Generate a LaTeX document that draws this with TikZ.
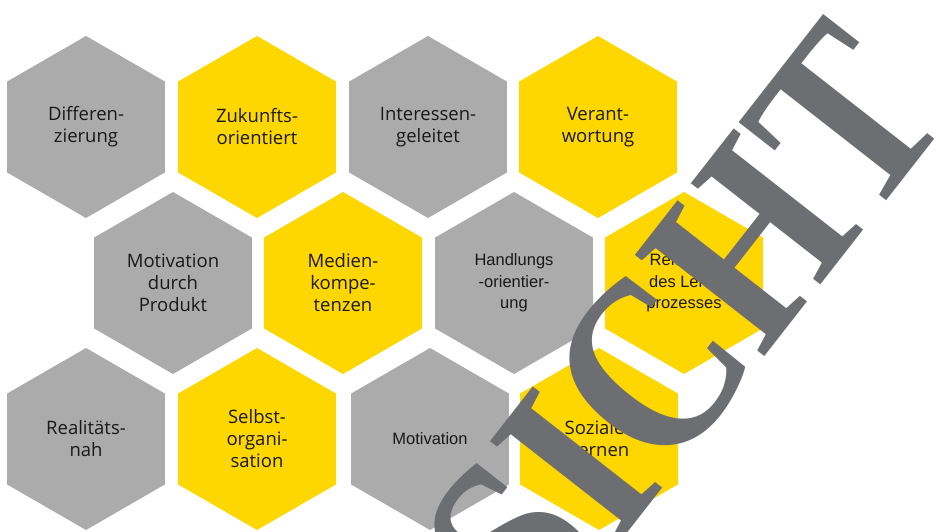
\documentclass[tikz,border=0pt]{standalone}
\usepackage{fontspec}
\setmainfont{Open Sans}
\newfontfamily\narrowfont{Liberation Sans}
\newfontfamily\stampfont{Liberation Serif}
\usetikzlibrary{shapes.geometric}

\definecolor{hexgray}{RGB}{171,171,171}
\definecolor{hexyellow}{RGB}{255,215,0}
\definecolor{stampgray}{RGB}{109,110,113}
\definecolor{labeltext}{RGB}{25,25,25}

\tikzset{
  hex/.style={regular polygon, regular polygon sides=6, regular polygon rotate=30,
    minimum size=182pt, inner sep=0pt, align=center, text=labeltext,
    font=\fontsize{18.5}{22}\selectfont},
  grayhex/.style={hex, fill=hexgray},
  yellowhex/.style={hex, fill=hexyellow},
  narrow/.style={font=\narrowfont\fontsize{16.5}{21.5}\selectfont}
}

\begin{document}
\begin{tikzpicture}[x=1pt,y=-1pt]
\useasboundingbox (0,0) rectangle (940,531);

% row 1
\node[grayhex]   (dif) at (86,127)  {Differen-\\zierung};
\node[yellowhex] (zuk) at (257,127) {Zukunfts-\\orientiert};
\node[grayhex]   (int) at (428,127) {Interessen-\\geleitet};
\node[yellowhex] (ver) at (598,127) {Verant-\\wortung};

% row 2
\node[grayhex]   (mdp) at (173,283) {Motivation\\durch\\Produkt};
\node[yellowhex] (med) at (343,283) {Medien-\\kompe-\\tenzen};
\node[grayhex,narrow]   (han) at (514,283) {Handlungs\\-orientier-\\ung};
\node[yellowhex,narrow] (ref) at (684,283) {Reflexion\\des Lern-\\prozesses};

% row 3
\node[grayhex]   (rea) at (86,439)  {Realitäts-\\nah};
\node[yellowhex] (sel) at (257,439) {Selbst-\\organi-\\sation};
\node[grayhex,narrow]   (mot) at (430,439) {Motivation};
\node[yellowhex] (soz) at (599,439) {Soziales\\Lernen};

% watermark
\begin{scope}
\clip (0,0) rectangle (940,531);
\node[anchor=base east, rotate=52, xscale=0.86, inner sep=0pt, text=stampgray,
  font=\stampfont\bfseries\fontsize{251}{251}\selectfont] (stamp) at (955,113) {ANSICHT};
\end{scope}

\end{tikzpicture}
\end{document}
